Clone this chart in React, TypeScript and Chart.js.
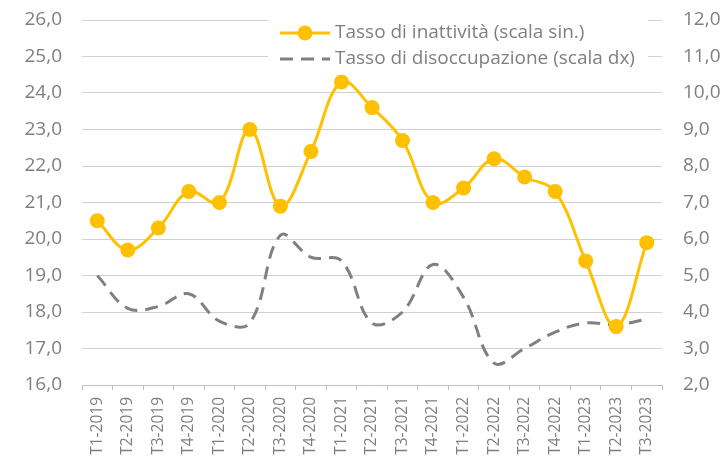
import React, { useEffect, useRef } from "react";
import { Chart, registerables } from "chart.js";

Chart.register(...registerables);

const categories = [
  "T1-2019", "T2-2019", "T3-2019", "T4-2019",
  "T1-2020", "T2-2020", "T3-2020", "T4-2020",
  "T1-2021", "T2-2021", "T3-2021", "T4-2021",
  "T1-2022", "T2-2022", "T3-2022", "T4-2022",
  "T1-2023", "T2-2023", "T3-2023",
];

const inattivita = [
  20.5, 19.7, 20.3, 21.3,
  21.0, 23.0, 20.9, 22.4,
  24.3, 23.6, 22.7, 21.0,
  21.4, 22.2, 21.7, 21.3,
  19.4, 17.6, 19.9,
];

const disoccupazione = [
  5.0, 4.1, 4.15, 4.5,
  3.75, 3.7, 6.1, 5.5,
  5.4, 3.7, 4.0, 5.3,
  4.4, 2.6, 3.0, 3.45,
  3.7, 3.65, 3.8,
];

const legendLabels = [
  "Tasso di inattività (scala sin.)",
  "Tasso di disoccupazione (scala dx)",
];

const YELLOW = "#FFC000";
const GREY_LINE = "#808080";
const TEXT = "#7F7F7F";
const GRID = "#D0D0D0";
const FONT = "'Open Sans', sans-serif";

const fmt = (v: number) => v.toFixed(1).replace(".", ",");

const legendPlugin = {
  id: "customLegend",
  afterDraw(chart: any) {
    const { ctx, chartArea } = chart;
    const x0 = chartArea.left + 186;
    const y0 = chartArea.top - 11;
    ctx.save();
    ctx.fillStyle = "#ffffff";
    ctx.fillRect(x0, y0, 380, 66);
    ctx.font = `19px ${FONT}`;
    ctx.textBaseline = "middle";
    ctx.fillStyle = TEXT;
    const sx = x0 + 12;
    const r1 = y0 + 24;
    const r2 = y0 + 50;
    // row 1
    ctx.strokeStyle = YELLOW;
    ctx.lineWidth = 3;
    ctx.beginPath();
    ctx.moveTo(sx, r1);
    ctx.lineTo(sx + 50, r1);
    ctx.stroke();
    ctx.fillStyle = YELLOW;
    ctx.beginPath();
    ctx.arc(sx + 25, r1, 7.5, 0, Math.PI * 2);
    ctx.fill();
    ctx.fillStyle = TEXT;
    ctx.fillText(legendLabels[0], sx + 55, r1);
    // row 2
    ctx.strokeStyle = GREY_LINE;
    ctx.setLineDash([13, 8]);
    ctx.beginPath();
    ctx.moveTo(sx, r2);
    ctx.lineTo(sx + 50, r2);
    ctx.stroke();
    ctx.setLineDash([]);
    ctx.fillText(legendLabels[1], sx + 55, r2);
    ctx.restore();
  },
};

export default function App() {
  const ref = useRef<HTMLCanvasElement | null>(null);

  useEffect(() => {
    document.body.style.margin = "0";
    const canvas = ref.current;
    if (!canvas) return;
    const chart = new Chart(canvas, {
      type: "line",
      data: {
        labels: categories,
        datasets: [
          {
            label: legendLabels[0],
            data: inattivita,
            yAxisID: "y",
            borderColor: YELLOW,
            backgroundColor: YELLOW,
            borderWidth: 3,
            pointRadius: 7.5,
            pointBackgroundColor: YELLOW,
            pointBorderColor: YELLOW,
            pointBorderWidth: 0,
            tension: 0.38,
          },
          {
            label: legendLabels[1],
            data: disoccupazione,
            yAxisID: "y1",
            borderColor: GREY_LINE,
            borderWidth: 3,
            borderDash: [13, 8],
            pointRadius: 0,
            tension: 0.38,
          },
        ],
      },
      options: {
        responsive: false,
        animation: false,
        layout: { padding: { top: 20, left: 0, right: 0, bottom: 0 } },
        plugins: {
          legend: { display: false },
          tooltip: { enabled: false },
        },
        scales: {
          x: {
            offset: true,
            grid: {
              display: true,
              drawOnChartArea: false,
              drawTicks: true,
              tickLength: 5,
              offset: true,
              color: "#BFBFBF",
            },
            border: { display: true, color: "#BFBFBF", width: 1 },
            ticks: {
              minRotation: 90,
              maxRotation: 90,
              autoSkip: false,
              padding: 7,
              color: TEXT,
              font: { family: FONT, size: 15.5 },
            },
            afterFit(scale: any) {
              scale.height = 74;
            },
          },
          y: {
            position: "left",
            min: 16,
            max: 26,
            grid: { color: GRID, lineWidth: 1, drawTicks: false },
            border: { display: false },
            ticks: {
              stepSize: 1,
              padding: 20,
              color: TEXT,
              font: { family: FONT, size: 19 },
              callback: (v: any) => fmt(Number(v)),
            },
            afterFit(scale: any) {
              scale.width = 82;
              scale.paddingTop = 0;
              scale.paddingBottom = 0;
            },
          },
          y1: {
            position: "right",
            min: 2,
            max: 12,
            grid: { display: false, drawTicks: false },
            border: { display: false },
            ticks: {
              stepSize: 1,
              padding: 21,
              color: TEXT,
              font: { family: FONT, size: 19 },
              callback: (v: any) => fmt(Number(v)),
            },
            afterFit(scale: any) {
              scale.width = 63;
              scale.paddingTop = 0;
              scale.paddingBottom = 0;
            },
          },
        },
      },
      plugins: [legendPlugin],
    });
    return () => chart.destroy();
  }, []);

  return (
    <div style={{ width: 725, height: 459 }}>
      <canvas ref={ref} width={725} height={459} />
    </div>
  );
}
